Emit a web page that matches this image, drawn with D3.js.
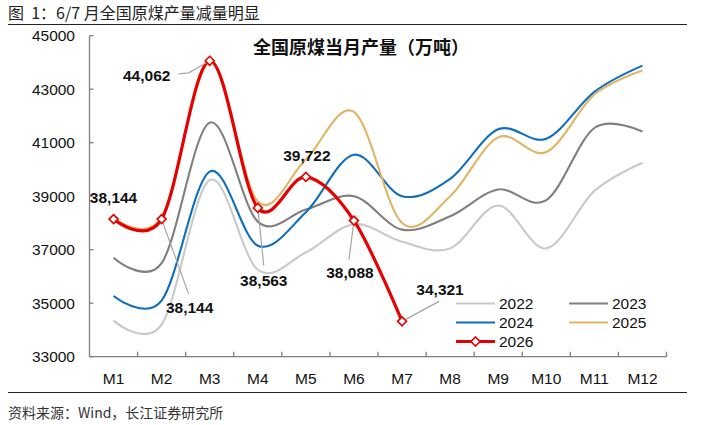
<!DOCTYPE html>
<html>
<head>
<meta charset="utf-8">
<style>
  body{margin:0;background:#fff;}
  svg text{font-family:"Liberation Sans",Arial,"Noto Sans CJK SC",sans-serif;}
  .cjk{font-family:"Noto Sans CJK SC","Liberation Sans",sans-serif;white-space:pre;}
</style>
<script src="https://d3js.org/d3.v7.min.js"></script>
</head>
<body>
<div class="container"></div>
<script>
// 月份
var months = ["M1","M2","M3","M4","M5","M6","M7","M8","M9","M10","M11","M12"];
var yTicks = [33000,35000,37000,39000,41000,43000,45000];

// 各年当月原煤产量（万吨），读图估计
var v2022 = [34350,34200,39600,36250,36900,37950,37300,37050,38650,37050,39200,40250];
var v2023 = [36700,36500,41750,38050,38500,39000,37750,38250,39250,38850,41550,41420];
var v2024 = [35270,35100,39920,37150,38400,40550,39000,39650,41500,41150,42900,43880];
var v2025 = [38200,38200,44000,38800,40380,42150,38000,39000,41200,40650,42800,43700];
var v2026 = [38144,38144,44062,38563,39722,38088,34321];

var seriesNames = ["2022","2023","2024","2025","2026"];
var seriesColors = ["#c9c9c9","#7f7f7f","#0f6fbd","#e0b566","#e60000"];

var width = 705, height = 425;
var margin = {left:89.5, right:705-666.5, top:35.7, bottom:425-356.7};

var svg = d3.select(".container").append("svg")
  .attr("width",width).attr("height",height);

// 顶部标题与横线
svg.append("text").attr("class","cjk")
  .attr("x",8).attr("y",19).attr("font-size",16).attr("fill","#222")
  .text("图  1：6/7 月全国原煤产量减量明显");
svg.append("line").attr("x1",8).attr("x2",687).attr("y1",24.5).attr("y2",24.5)
  .attr("stroke","#222").attr("stroke-width",1.2);
svg.append("line").attr("x1",8).attr("x2",687).attr("y1",392.5).attr("y2",392.5)
  .attr("stroke","#222").attr("stroke-width",1.2);
svg.append("text").attr("class","cjk")
  .attr("x",8).attr("y",418).attr("font-size",14).attr("fill","#333")
  .text("资料来源：Wind，长江证券研究所");

var x = d3.scaleBand().domain(months).range([margin.left, width-margin.right]);
var y = d3.scaleLinear().domain([33000,45000]).range([height-margin.bottom, margin.top]);

// x 轴
var gx = svg.append("g").attr("transform","translate(0,"+(height-margin.bottom)+")");
gx.append("line").attr("x1",margin.left).attr("x2",width-margin.right)
  .attr("stroke","#7f7f7f").attr("stroke-width",1.3);
var bounds = d3.range(13).map(function(i){return margin.left + i*x.bandwidth();});
gx.selectAll(".tk").data(bounds.slice(1)).enter().append("line")
  .attr("x1",function(d){return d;}).attr("x2",function(d){return d;})
  .attr("y1",0).attr("y2",-5).attr("stroke","#7f7f7f").attr("stroke-width",1.3);
gx.selectAll(".lb").data(months).enter().append("text")
  .attr("x",function(d){return x(d)+x.bandwidth()/2;})
  .attr("y",27).attr("text-anchor","middle").attr("font-size",15.5).attr("fill","#111")
  .text(function(d){return d;});

// y 轴
var gy = svg.append("g");
gy.append("line").attr("x1",margin.left).attr("x2",margin.left)
  .attr("y1",y(33000)).attr("y2",y(45000)).attr("stroke","#7f7f7f").attr("stroke-width",1.3);
gy.selectAll(".tk").data(yTicks).enter().append("line")
  .attr("x1",margin.left).attr("x2",margin.left+4)
  .attr("y1",function(d){return y(d);}).attr("y2",function(d){return y(d);})
  .attr("stroke","#7f7f7f").attr("stroke-width",1.3);
gy.selectAll(".lb").data(yTicks).enter().append("text")
  .attr("x",75).attr("y",function(d){return y(d)+5.5;})
  .attr("text-anchor","end").attr("font-size",15.5).attr("fill","#111")
  .text(function(d){return d;});

// 图内标题
svg.append("text").attr("class","cjk")
  .attr("x",361).attr("y",54).attr("text-anchor","middle")
  .attr("font-size",18).attr("font-weight","bold").attr("fill","#111")
  .text("全国原煤当月产量（万吨）");

var line = d3.line()
  .x(function(d,i){return x(months[i])+x.bandwidth()/2;})
  .y(function(d){return y(d);})
  .curve(d3.curveCardinal.tension(0));

var allSeries = [v2022,v2023,v2024,v2025,v2026];
allSeries.forEach(function(s,k){
  svg.append("path").datum(s)
    .attr("d",line).attr("fill","none")
    .attr("stroke",seriesColors[k])
    .attr("stroke-width",k==4?3.2:2.1)
    .attr("stroke-linejoin","round");
});

// 2026 标记
function diamond(g,cx,cy){
  g.append("path")
    .attr("d","M"+cx+","+(cy-4.5)+"L"+(cx+4.5)+","+cy+"L"+cx+","+(cy+4.5)+"L"+(cx-4.5)+","+cy+"Z")
    .attr("fill","#fff").attr("stroke","#e60000").attr("stroke-width",1.6);
}

// 数据标签：[月份索引, 标签中心 x 偏移, 基线 y 值, 引导线]
var labelIdx = [0,1,2,3,4,5,6];
var labelDx = [0,28,-63,6,1,-4,38];
var labelDy = [-16,94,20,78,-16,57,-26];
var leader = [null,[[0,0],[27,75]],[[-31,13],[-21,12],[0,0]],[[0,0],[6,58]],null,[[0,0],[-5,39]],[[0,0],[37,-20]]];

var gl = svg.append("g");
labelIdx.forEach(function(i,k){
  var cx = x(months[i])+x.bandwidth()/2, cy = y(v2026[i]);
  if(leader[k]){
    gl.append("path")
      .attr("d",d3.line()(leader[k].map(function(p){return [cx+p[0],cy+p[1]];})))
      .attr("fill","none").attr("stroke","#a6a6a6").attr("stroke-width",1.2);
  }
});
v2026.forEach(function(d,i){
  diamond(svg, x(months[i])+x.bandwidth()/2, y(d));
});
labelIdx.forEach(function(i,k){
  var cx = x(months[i])+x.bandwidth()/2, cy = y(v2026[i]);
  svg.append("text")
    .attr("x",cx+labelDx[k]).attr("y",cy+labelDy[k])
    .attr("text-anchor","middle").attr("font-size",15.5).attr("font-weight","bold").attr("fill","#111")
    .text(d3.format(",")(v2026[i]));
});

// 图例
var legX = [456,569], legY = [303.5,322.5,341.5];
seriesNames.forEach(function(n,k){
  var lx = legX[k%2], ly = legY[Math.floor(k/2)];
  svg.append("line").attr("x1",lx).attr("x2",lx+39).attr("y1",ly).attr("y2",ly)
    .attr("stroke",seriesColors[k]).attr("stroke-width",k==4?3.2:2.1);
  if(k==4) diamond(svg, lx+19.5, ly);
  svg.append("text").attr("x",lx+43).attr("y",ly+5.5)
    .attr("font-size",15.5).attr("fill","#111").text(n);
});
</script>
</body>
</html>
